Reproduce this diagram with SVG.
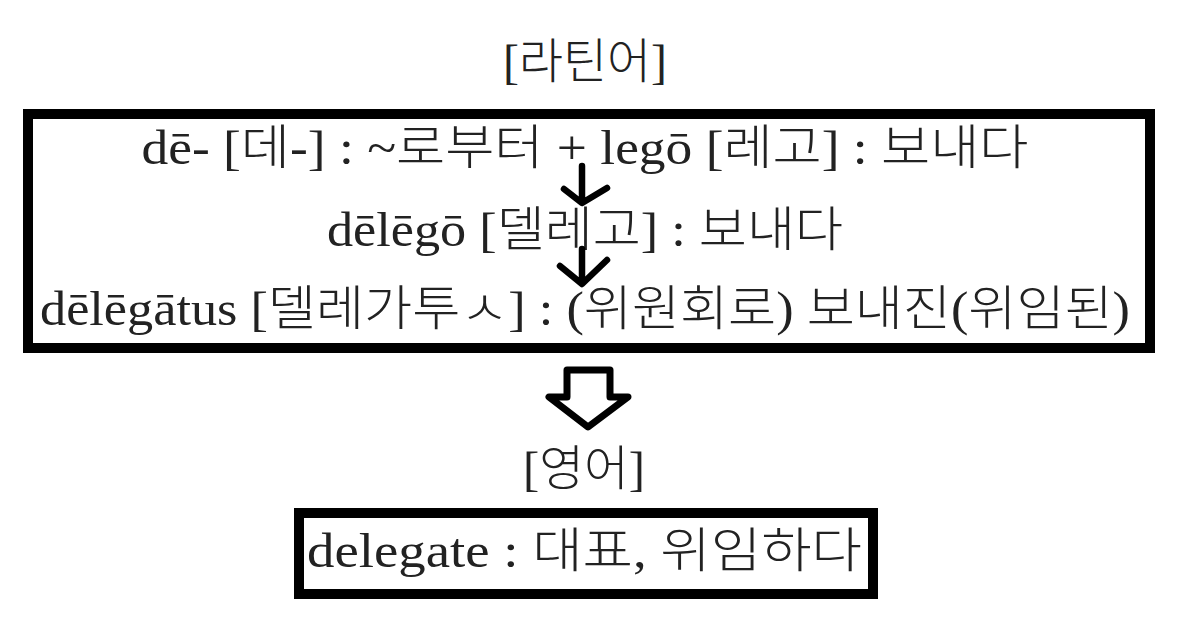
<svg xmlns="http://www.w3.org/2000/svg" width="1188" height="628" viewBox="0 0 1188 628">
  <style>
    .t { font-family: "Liberation Serif", "Noto Sans CJK KR", serif; font-size: 48px; font-weight: 300; fill: #222; text-anchor: middle; }
    .box { fill: #fff; stroke: #000; stroke-width: 10; }
    .hand { fill: none; stroke: #000; stroke-width: 6.5; stroke-linecap: round; stroke-linejoin: round; }
    .big { fill: #fff; stroke: #000; stroke-width: 7; stroke-linejoin: round; }
  </style>
  <rect width="1188" height="628" fill="#fff"/>

  <g id="latin-label">
    <text class="t" x="585" y="78" textLength="164" lengthAdjust="spacingAndGlyphs">[라틴어]</text>
  </g>

  <g id="latin-box">
    <rect class="box" x="28" y="114" width="1122" height="234"/>
    <text class="t" x="585" y="164" textLength="887" lengthAdjust="spacingAndGlyphs">dē- [데-] : ~로부터 + legō [레고] : 보내다</text>
    <text class="t" x="585" y="246" textLength="516" lengthAdjust="spacingAndGlyphs">dēlēgō [델레고] : 보내다</text>
    <text class="t" x="585" y="325" textLength="1090" lengthAdjust="spacingAndGlyphs">dēlēgātus [델레가투ㅅ] : (위원회로) 보내진(위임된)</text>
  </g>

  <g id="english-label">
    <text class="t" x="584" y="485" textLength="122" lengthAdjust="spacingAndGlyphs">[영어]</text>
  </g>

  <g id="english-box">
    <rect class="box" x="299" y="513" width="574" height="81"/>
    <text class="t" x="584.5" y="567" textLength="555" lengthAdjust="spacingAndGlyphs">delegate : 대표, 위임하다</text>
  </g>

  <g id="connectors">
    <path class="hand" d="M582 166 L582 202 M564 189 L582 203 L607 188"/>
    <path class="hand" d="M582 249 L582 283 M560 266 L582 284 L607 260"/>
    <path class="big" d="M567 370 L610 370 L610 397 L628 397 L588 427 L549 397 L567 397 Z"/>
  </g>
</svg>
